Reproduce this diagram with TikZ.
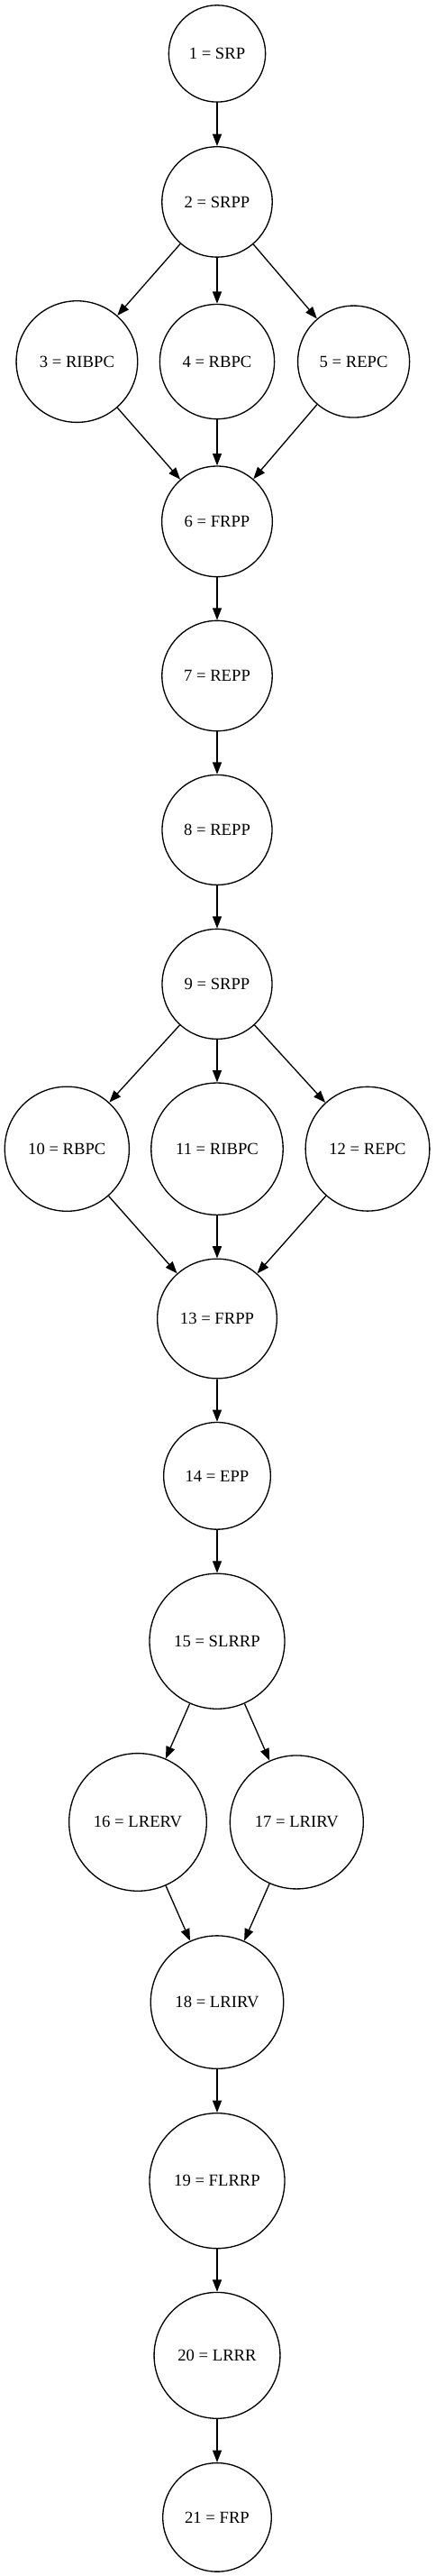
\documentclass[tikz,border=0pt]{standalone}
\usepackage{fontspec}
\setmainfont{Liberation Serif}
\usetikzlibrary{arrows.meta,positioning}

\begin{document}
\begin{tikzpicture}[
      font=\fontsize{14pt}{16pt}\selectfont,
      proc/.style={circle,draw,line width=1pt,inner sep=1pt,minimum size=#1},
      arr/.style={-{Triangle[length=10pt,width=7.5pt]},line width=1pt}]
    \useasboundingbox (-180.75pt,44.6pt) rectangle (181.5pt,-2098.1pt);
    \node[proc=80.5pt] (n1) at (0,0) {1 = SRP};
    \node[proc=91.8pt,below=36.2pt of n1] (n2) {2 = SRPP};
    \node[proc=95.4pt,below=38.25pt of n2] (n4) {4 = RBPC};
    \node[proc=101pt,left=17.5pt of n4] (n3) {3 = RIBPC};
    \node[proc=93pt,right=18.5pt of n4] (n5) {5 = REPC};
    \node[proc=92pt,below=38.25pt of n4] (n6) {6 = FRPP};
    \node[proc=91.8pt,below=35.5pt of n6] (n7) {7 = REPP};
    \node[proc=91.5pt,below=35.5pt of n7] (n8) {8 = REPP};
    \node[proc=91.5pt,below=35.7pt of n8] (n9) {9 = SRPP};
    \node[proc=109.8pt,below=35.5pt of n9] (n11) {11 = RIBPC};
    \node[proc=103.6pt,left=17.3pt of n11] (n10) {10 = RBPC};
    \node[proc=103.3pt,right=17.7pt of n11] (n12) {12 = REPC};
    \node[proc=99.5pt,below=35.55pt of n11] (n13) {13 = FRPP};
    \node[proc=89pt,below=35.5pt of n13] (n14) {14 = EPP};
    \node[proc=112.5pt,below=35.8pt of n14] (n15) {15 = SLRRP};
    \node[proc=114.5pt,below=36pt of n15,xshift=-66pt] (n16) {16 = LRERV};
    \node[proc=111pt,right=18.5pt of n16] (n17) {17 = LRIRV};
    \node[proc=110.6pt,below=187.7pt of n15] (n18) {18 = LRIRV};
    \node[proc=112.5pt,below=36pt of n18] (n19) {19 = FLRRP};
    \node[proc=104.9pt,below=35.55pt of n19] (n20) {20 = LRRR};
    \node[proc=90.4pt,below=36pt of n20] (n21) {21 = FRP};
    \draw[arr] (n1) -- (n2);
    \draw[arr] (n2) -- (n3);
    \draw[arr] (n2) -- (n4);
    \draw[arr] (n2) -- (n5);
    \draw[arr] (n3) -- (n6);
    \draw[arr] (n4) -- (n6);
    \draw[arr] (n5) -- (n6);
    \draw[arr] (n6) -- (n7);
    \draw[arr] (n7) -- (n8);
    \draw[arr] (n8) -- (n9);
    \draw[arr] (n9) -- (n10);
    \draw[arr] (n9) -- (n11);
    \draw[arr] (n9) -- (n12);
    \draw[arr] (n10) -- (n13);
    \draw[arr] (n11) -- (n13);
    \draw[arr] (n12) -- (n13);
    \draw[arr] (n13) -- (n14);
    \draw[arr] (n14) -- (n15);
    \draw[arr] (n15) -- (n16);
    \draw[arr] (n15) -- (n17);
    \draw[arr] (n16) -- (n18);
    \draw[arr] (n17) -- (n18);
    \draw[arr] (n18) -- (n19);
    \draw[arr] (n19) -- (n20);
    \draw[arr] (n20) -- (n21);
\end{tikzpicture}
\end{document}
